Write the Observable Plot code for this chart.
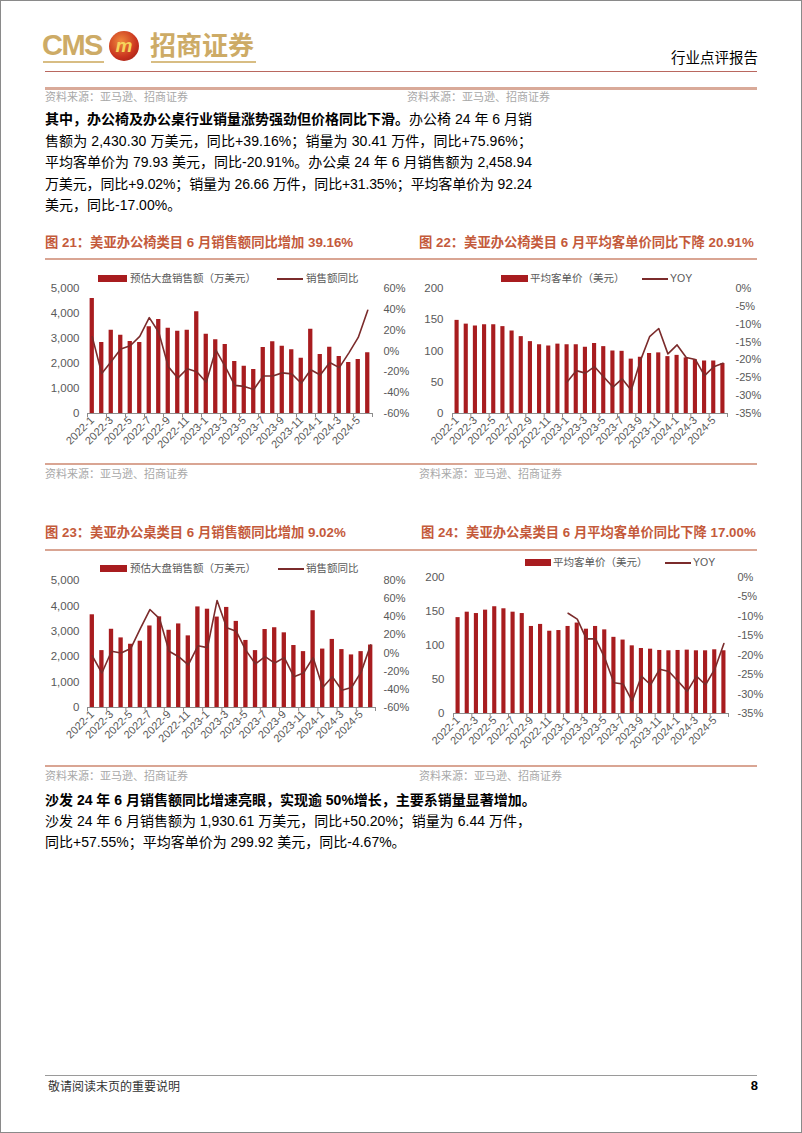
<!DOCTYPE html>
<html><head><meta charset="utf-8">
<script src="https://cdn.jsdelivr.net/npm/d3@7"></script>
<script src="https://cdn.jsdelivr.net/npm/@observablehq/plot@0.6"></script>
<style>
body{margin:0;background:#fff;}
#page{position:relative;width:802px;height:1133px;overflow:hidden;background:#fff;
 font-family:"Liberation Sans","Noto Sans CJK SC",sans-serif;color:#000;}
#frame{position:absolute;left:0;top:0;width:802px;height:1133px;box-sizing:border-box;border:1px solid #8a8a8a;pointer-events:none;}
.a{position:absolute;white-space:nowrap;}
.hl{position:absolute;left:45px;width:712px;}
.src{position:absolute;font-size:11px;color:#a8a8a8;line-height:14px;font-family:"Noto Sans CJK SC",sans-serif;}
.ttl{position:absolute;font-size:13.3px;font-weight:bold;color:#c45a3b;line-height:18px;white-space:nowrap;}
.para{position:absolute;left:45px;font-size:14px;}
.para div{white-space:nowrap;}
.lg{position:absolute;font-size:10.5px;color:#595959;line-height:12px;white-space:nowrap;font-family:"Noto Sans CJK SC",sans-serif;}
.sw{position:absolute;height:7px;}
.ln{position:absolute;height:1.6px;}
.chart{position:absolute;}
</style></head>
<body>
<div id="page">
  <div id="frame"></div>
  <div class="a" style="left:42px;top:28px;font-size:29px;font-weight:bold;color:#cdab66;letter-spacing:-1.5px;line-height:34px;">CMS</div>
  <div class="a" style="left:43px;top:61px;width:61px;height:2px;background:#d8bd83;"></div>
  <div class="a" style="left:109px;top:31px;width:30px;height:30px;border-radius:50%;background:radial-gradient(circle at 40% 35%,#f08a3c,#c8321e 60%,#8e1a12);"></div>
  <div class="a" style="left:109px;top:31px;width:30px;height:30px;line-height:30px;text-align:center;font-size:19px;font-weight:bold;font-style:italic;color:#f6d35b;">m</div>
  <div class="a" style="left:150px;top:28px;font-size:26px;font-weight:bold;color:#cdab66;line-height:32px;font-family:'Noto Sans CJK SC',sans-serif;">招商证券</div>
  <div class="a" style="left:151px;top:61px;width:105px;height:2px;background:#d8bd83;"></div>
  <div class="a" style="right:44px;top:47px;font-size:14.5px;line-height:20px;font-family:'Noto Sans CJK SC',sans-serif;">行业点评报告</div>
  <div class="hl" style="top:71px;height:1px;background:#b9675f;"></div>
  <div class="hl" style="top:87px;height:2.5px;background:#d9aa99;"></div>
  <div class="src" style="left:45px;top:89px;">资料来源：亚马逊、招商证券</div>
  <div class="src" style="left:407px;top:89px;">资料来源：亚马逊、招商证券</div>

  <div class="para" style="top:109px;line-height:21.5px;">
    <div class="jl"><b>其中，办公椅及办公桌行业销量涨势强劲但价格同比下滑。</b>办公椅 24 年 6 月销</div>
    <div class="jl">售额为 2,430.30 万美元，同比+39.16%；销量为 30.41 万件，同比+75.96%；</div>
    <div class="jl">平均客单价为 79.93 美元，同比-20.91%。办公桌 24 年 6 月销售额为 2,458.94</div>
    <div class="jl">万美元，同比+9.02%；销量为 26.66 万件，同比+31.35%；平均客单价为 92.24</div>
    <div>美元，同比-17.00%。</div>
  </div>

  <div class="ttl" style="left:45px;top:234px;">图 21：美亚办公椅类目 6 月销售额同比增加 39.16%</div>
  <div class="ttl" style="left:419px;top:234px;">图 22：美亚办公椅类目 6 月平均客单价同比下降 20.91%</div>
  <div class="hl" style="top:258px;height:2px;background:#d9a593;"></div>

  <div class="sw" style="left:98px;top:275px;width:29px;background:#a81c1f;"></div>
  <div class="lg" style="left:130px;top:272px;">预估大盘销售额（万美元）</div>
  <div class="ln" style="left:277px;top:278px;width:26px;background:#7b2b2b;"></div>
  <div class="lg" style="left:306px;top:272px;">销售额同比</div>

  <div class="sw" style="left:501px;top:275px;width:27px;background:#a81c1f;"></div>
  <div class="lg" style="left:530px;top:272px;">平均客单价（美元）</div>
  <div class="ln" style="left:642px;top:278px;width:26px;background:#7b2b2b;"></div>
  <div class="lg" style="left:670px;top:272px;font-family:'Liberation Sans',sans-serif;">YOY</div>

  <div id="c21" class="chart" style="left:30px;top:280px;"></div>
  <div id="c22" class="chart" style="left:405px;top:280px;"></div>

  <div class="hl" style="top:463px;height:2px;background:#d9a593;"></div>
  <div class="src" style="left:45px;top:466px;">资料来源：亚马逊、招商证券</div>
  <div class="src" style="left:419px;top:466px;">资料来源：亚马逊、招商证券</div>

  <div class="ttl" style="left:45px;top:524px;">图 23：美亚办公桌类目 6 月销售额同比增加 9.02%</div>
  <div class="ttl" style="left:421px;top:524px;">图 24：美亚办公桌类目 6 月平均客单价同比下降 17.00%</div>
  <div class="hl" style="top:549px;height:2px;background:#d9a593;"></div>

  <div class="sw" style="left:100px;top:565px;width:27px;background:#a81c1f;"></div>
  <div class="lg" style="left:130px;top:562px;">预估大盘销售额（万美元）</div>
  <div class="ln" style="left:278px;top:568px;width:26px;background:#7b2b2b;"></div>
  <div class="lg" style="left:306px;top:562px;">销售额同比</div>

  <div class="sw" style="left:525px;top:559px;width:26px;background:#a81c1f;"></div>
  <div class="lg" style="left:553px;top:556px;">平均客单价（美元）</div>
  <div class="ln" style="left:665px;top:562px;width:26px;background:#7b2b2b;"></div>
  <div class="lg" style="left:693px;top:556px;font-family:'Liberation Sans',sans-serif;">YOY</div>

  <div id="c23" class="chart" style="left:30px;top:572px;"></div>
  <div id="c24" class="chart" style="left:405px;top:569px;"></div>

  <div class="hl" style="top:765px;height:2px;background:#d9a593;"></div>
  <div class="src" style="left:45px;top:768px;">资料来源：亚马逊、招商证券</div>
  <div class="src" style="left:419px;top:768px;">资料来源：亚马逊、招商证券</div>

  <div class="para" style="top:790px;line-height:21px;">
    <div><b>沙发 24 年 6 月销售额同比增速亮眼，实现逾 50%增长，主要系销量显著增加。</b></div>
    <div>沙发 24 年 6 月销售额为 1,930.61 万美元，同比+50.20%；销量为 6.44 万件，</div>
    <div>同比+57.55%；平均客单价为 299.92 美元，同比-4.67%。</div>
  </div>

  <div class="hl" style="top:1075px;height:1px;background:#9a9a9a;"></div>
  <div class="a" style="left:48px;top:1078px;font-size:12px;line-height:16px;color:#333;font-family:'Noto Sans CJK SC',sans-serif;">敬请阅读末页的重要说明</div>
  <div class="a" style="right:44px;top:1077px;font-size:13px;line-height:17px;font-weight:bold;">8</div>
</div>

<script>
// fit each full paragraph line to the text column width (45px → 532px)
document.querySelectorAll(".jl").forEach(el => {
  const r = document.createRange();
  r.selectNodeContents(el);
  const w = r.getBoundingClientRect().width;
  const n = el.textContent.trim().length;
  el.style.letterSpacing = ((487 - w) / n) + "px";
});

const months = ["2022-1","2022-2","2022-3","2022-4","2022-5","2022-6","2022-7","2022-8","2022-9","2022-10","2022-11","2022-12",
  "2023-1","2023-2","2023-3","2023-4","2023-5","2023-6","2023-7","2023-8","2023-9","2023-10","2023-11","2023-12",
  "2024-1","2024-2","2024-3","2024-4","2024-5","2024-6"];
const tickLabels = ["2022-1","2022-3","2022-5","2022-7","2022-9","2022-11","2023-1","2023-3","2023-5","2023-7","2023-9","2023-11","2024-1","2024-3","2024-5"];

// 图21 办公椅 销售额(万美元) & 同比(%)
const chairSales = [4600,2840,3330,3130,2880,2840,3470,3760,3410,3290,3330,4070,3170,2950,2760,2080,1890,1760,2640,2870,2690,2550,2210,3370,2360,2650,2280,2040,2160,2430];
const chairSalesYoy = [13.6,-21.6,-10,2,5,14,32,18,-15,-26,-17,-20,-30,1,-15,-33,-34,-37,-24,-24,-21,-22,-31,-18,-23,-11,-16,-2,13,39.16];
// 图22 办公椅 平均客单价(美元) & YOY(%)
const chairPrice = [149,143,140,142,142,139,132,123,115,110,108,111,110,110,106,112,107,100,99.5,87,90,96,97,91,93,89,86,84,84,79.93];
const chairPriceYoy = [null,null,null,null,null,null,null,null,null,null,null,null,
  -26.2,-23,-23.7,-21.9,-24.8,-27.6,-25.3,-28.5,-20.2,-13.5,-11.2,-18.3,-15.8,-19.3,-19.9,-24.4,-21.9,-20.91];
// 图23 办公桌 销售额(万美元) & 同比(%)
const deskSales = [3650,2240,3080,2740,2490,2610,3210,3570,3040,3290,2820,3960,3870,3560,3940,3390,2640,2240,3070,3140,2940,2440,2200,3810,2300,2680,2280,2070,2200,2459];
const deskSalesYoy = [-3,-22,2,0,5,27,48,38,2,-4,-13,8,6,58,28,24,3,-12,-4,-11,-5,-26,-22,-5,-38,-26,-41,-38,-21,9.02];
// 图24 办公桌 平均客单价(美元) & YOY(%)
const deskPrice = [141,149,147,152,157,154,149,147,128,131,121,122,128,133,124,128,123,112,108,99.5,95.6,94.6,92.7,92.2,92.7,93.2,92.2,92.2,93.7,92.24];
const deskPriceYoy = [null,null,null,null,null,null,null,null,null,null,null,null,
  -9.2,-10.7,-15.8,-15.8,-20.7,-27.1,-27.4,-31.8,-25.4,-27.6,-23.6,-24.2,-26.7,-29.3,-25.4,-27.6,-23.6,-17.0];

const salesTicks = [0,1000,2000,3000,4000,5000];
const priceTicks = [0,50,100,150,200];
const yoyTicks21 = [-60,-40,-20,0,20,40,60];
const yoyTicks23 = [-60,-40,-20,0,20,40,60,80];
const yoyTicksPrice = [-35,-30,-25,-20,-15,-10,-5,0];

const BAR = "#a81c1f", LINE = "#7b2b2b", AXIS = "#8c8c8c", TXT = "#595959";

function chart(id, cfg) {
  const {width, height, mT, mB, mL, mR, values, yoy, yMax, leftTicks, rMin, rMax, rightTicks, padL, padR} = cfg;
  const data = months.map((m, i) => ({m, v: values[i], r: yoy[i]}));
  const toLeft = p => (p - rMin) / (rMax - rMin) * yMax;
  const fromLeft = d => Math.round(rMin + d / yMax * (rMax - rMin));
  const step = (width - mL - mR) / months.length;
  const tickLen = 4 / (height - mT - mB) * yMax;
  const fmt = d3.format(",");
  const svg = Plot.plot({
    width, height, marginTop: mT, marginBottom: mB, marginLeft: mL, marginRight: mR,
    style: {fontFamily: "'Liberation Sans','Noto Sans CJK SC',sans-serif", fontSize: "11px", color: TXT, background: "transparent", overflow: "visible"},
    x: {domain: months, paddingInner: 0.55, paddingOuter: 0.275, round: false, axis: null},
    y: {domain: [0, yMax], axis: null},
    marks: [
      Plot.barY(data, {x: "m", y: "v", fill: BAR}),
      Plot.ruleY([0], {stroke: AXIS, strokeWidth: 1}),
      Plot.ruleX(tickLabels, {x: d => d, y1: 0, y2: -tickLen, dx: -step / 2, stroke: AXIS}),
      Plot.ruleX([months[months.length - 1]], {x: d => d, y1: 0, y2: -tickLen, dx: step / 2, stroke: AXIS}),
      Plot.line(data.filter(d => d.r != null), {x: "m", y: d => toLeft(d.r), stroke: LINE, strokeWidth: 1.6}),
      Plot.axisX(tickLabels, {tickRotate: -45, tickSize: 0, tickPadding: 5, label: null, fontSize: 11, fill: TXT}),
      Plot.axisY(leftTicks, {anchor: "left", tickSize: 0, tickPadding: padL, tickFormat: fmt, label: null, fontSize: 11.5, fill: TXT}),
      Plot.axisY(rightTicks.map(toLeft), {anchor: "right", tickSize: 0, tickPadding: padR, tickFormat: d => fromLeft(d) + "%", label: null, fontSize: 11, fill: TXT})
    ]
  });
  document.getElementById(id).appendChild(svg);
}

chart("c21", {width: 380, height: 180, mT: 8, mB: 47, mL: 57, mR: 38, values: chairSales, yoy: chairSalesYoy,
  yMax: 5000, leftTicks: salesTicks, rMin: -60, rMax: 60, rightTicks: yoyTicks21, padL: 8, padR: 11});
chart("c22", {width: 397, height: 180, mT: 8, mB: 47, mL: 47, mR: 75, values: chairPrice, yoy: chairPriceYoy,
  yMax: 200, leftTicks: priceTicks, rMin: -35, rMax: 0, rightTicks: yoyTicksPrice, padL: 9, padR: 8});
chart("c23", {width: 380, height: 180, mT: 8, mB: 45, mL: 57, mR: 35, values: deskSales, yoy: deskSalesYoy,
  yMax: 5000, leftTicks: salesTicks, rMin: -60, rMax: 80, rightTicks: yoyTicks23, padL: 8, padR: 8});
chart("c24", {width: 397, height: 190, mT: 8, mB: 46, mL: 48, mR: 74, values: deskPrice, yoy: deskPriceYoy,
  yMax: 200, leftTicks: priceTicks, rMin: -35, rMax: 0, rightTicks: yoyTicksPrice, padL: 9, padR: 9});
</script>
</body></html>
